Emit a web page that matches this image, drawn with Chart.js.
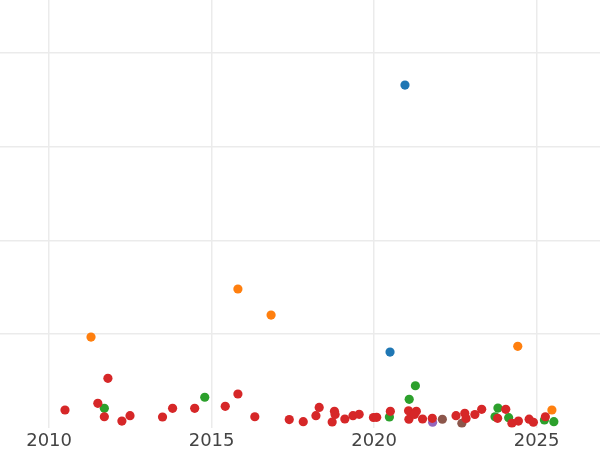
<!DOCTYPE html>
<html>
<head>
<meta charset="utf-8">
<script src="https://cdn.jsdelivr.net/npm/chart.js@4"></script>
<style>
  body { margin: 0; background: #fff; }
</style>
</head>
<body>
<canvas id="myChart" width="600" height="450"></canvas>
<script>
const ctx = document.getElementById('myChart');

// tick positions
const xTicks = [2010, 2015, 2020, 2025];
const yTicks = [1, 2, 3, 4];

// series: year (x) and value (y)
const redYears = [2010.49, 2011.50, 2011.81, 2011.70, 2012.24, 2012.49, 2013.49, 2013.80, 2014.48, 2015.42,
  2015.81, 2016.33, 2017.39, 2017.82, 2018.21, 2018.31, 2018.71, 2018.78, 2018.80, 2019.10,
  2019.35, 2019.54, 2019.98, 2020.08, 2020.50, 2021.06, 2021.07, 2021.30, 2021.24, 2021.49,
  2021.79, 2022.52, 2022.79, 2022.83, 2023.10, 2023.31, 2023.80, 2024.05, 2024.24, 2024.44,
  2024.77, 2024.90, 2025.27];
const redValues = [0.188, 0.259, 0.526, 0.116, 0.070, 0.127, 0.113, 0.206, 0.206, 0.227,
  0.359, 0.116, 0.086, 0.063, 0.127, 0.215, 0.060, 0.174, 0.140, 0.092,
  0.127, 0.142, 0.108, 0.110, 0.174, 0.180, 0.089, 0.174, 0.140, 0.092,
  0.099, 0.127, 0.153, 0.097, 0.140, 0.195, 0.099, 0.195, 0.046, 0.070,
  0.090, 0.057, 0.116];

const greenYears = [2011.70, 2014.79, 2020.47, 2021.08, 2021.27, 2023.72, 2023.81, 2024.14, 2025.24, 2025.53];
const greenValues = [0.206, 0.324, 0.113, 0.302, 0.447, 0.116, 0.209, 0.106, 0.081, 0.063];

const orangeYears = [2011.29, 2015.81, 2016.83, 2024.42, 2025.47];
const orangeValues = [0.967, 1.480, 1.202, 0.868, 0.188];

const blueYears = [2020.95, 2020.49];
const blueValues = [3.658, 0.807];

const purpleYears = [2021.80];
const purpleValues = [0.057];

const brownYears = [2022.10, 2022.70];
const brownValues = [0.089, 0.046];

function pts(xs, ys) {
  return xs.map((x, i) => ({ x: x, y: ys[i] }));
}

function series(label, xs, ys, color) {
  return {
    label: label,
    data: pts(xs, ys),
    backgroundColor: color,
    borderColor: color,
    pointRadius: 4.6,
    pointBorderWidth: 0,
    pointHoverRadius: 4.6
  };
}

new Chart(ctx, {
  type: 'scatter',
  data: {
    datasets: [
      series('red', redYears, redValues, '#d62728'),
      series('green', greenYears, greenValues, '#2ca02c'),
      series('orange', orangeYears, orangeValues, '#ff7f0e'),
      series('blue', blueYears, blueValues, '#1f77b4'),
      series('purple', purpleYears, purpleValues, '#9467bd'),
      series('brown', brownYears, brownValues, '#8c564b')
    ]
  },
  options: {
    responsive: false,
    animation: false,
    events: [],
    layout: { padding: 0, autoPadding: false },
    plugins: {
      legend: { display: false },
      tooltip: { enabled: false }
    },
    scales: {
      x: {
        type: 'linear',
        min: 2008.49,
        max: 2026.95,
        afterBuildTicks: (axis) => { axis.ticks = xTicks.map(v => ({ value: v })); },
        afterFit: (axis) => { axis.height = 22.4; },
        grid: { color: '#ebebeb', lineWidth: 1.5, drawTicks: false },
        border: { display: false },
        ticks: {
          padding: 2.8,
          color: '#444444',
          font: { family: 'DejaVu Sans', size: 18 },
          maxRotation: 0,
          callback: (v) => String(v)
        }
      },
      y: {
        type: 'linear',
        min: 0,
        max: 4.566,
        afterBuildTicks: (axis) => { axis.ticks = yTicks.map(v => ({ value: v })); },
        grid: { color: '#ebebeb', lineWidth: 1.5, drawTicks: false },
        border: { display: false },
        ticks: { display: false }
      }
    }
  }
});
</script>
</body>
</html>
